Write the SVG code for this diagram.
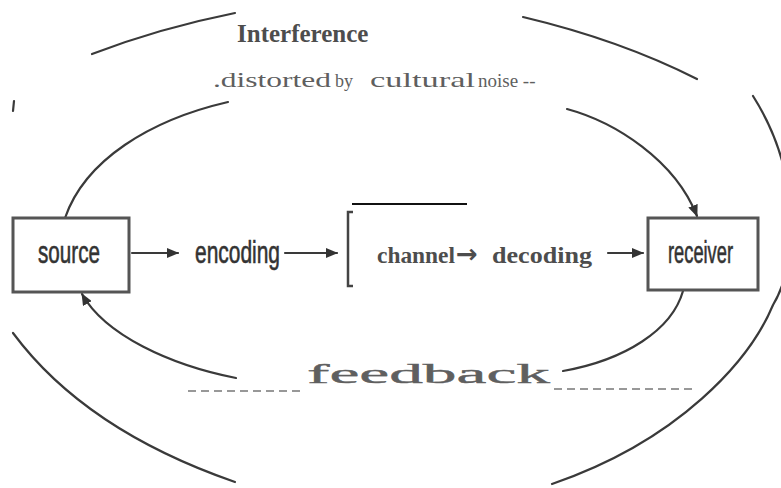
<svg xmlns="http://www.w3.org/2000/svg" width="781" height="488" viewBox="0 0 781 488">
<defs>
<marker id="ah" markerUnits="userSpaceOnUse" markerWidth="12" markerHeight="10" refX="11" refY="5" orient="auto">
<path d="M0,0 L12,5 L0,10 Z" fill="#333"/>
</marker>
<style>
.arc{fill:none;stroke:#3a3a3a;stroke-width:2.2;stroke-linecap:round}
.box{fill:#fff;stroke:#555;stroke-width:3}
.cond{font-family:"Liberation Sans Narrow","Liberation Sans",sans-serif;font-size:31px;fill:#333;stroke:#333;stroke-width:0.6}
.serif{font-family:"Liberation Serif",serif;fill:#5f5f5f}
.bold{font-family:"Liberation Serif",serif;font-weight:bold;fill:#4d4d4d}
.dash{stroke:#777;stroke-width:1.6;stroke-dasharray:8 5}
</style>
</defs>
<rect width="781" height="488" fill="#fff"/>

<g id="connectors">
<path class="arc" d="M92,54 Q160,28 235,13"/>
<path class="arc" d="M523,17 Q620,40 697,79"/>
<path class="arc" d="M14,101 L13,111"/>
<path class="arc" d="M753,96 C800,170 800,260 773,305 C750,360 680,440 552,484"/>
<path class="arc" d="M13,333 Q85,430 235,482"/>
<path class="arc" d="M65,218 C85,160 150,120 228,102"/>
<path class="arc" d="M567,109 C615,122 675,160 697,216" marker-end="url(#ah)"/>
<path class="arc" d="M236,378 C170,365 105,335 82,294" marker-end="url(#ah)"/>
<path class="arc" d="M683,291 C672,330 625,360 563,371"/>
<path class="arc" d="M132,253 L178,253" stroke-width="3" marker-end="url(#ah)"/>
<path class="arc" d="M285,253 L337,253" marker-end="url(#ah)"/>
<path class="arc" d="M608,253 L643,253" marker-end="url(#ah)"/>
<line x1="352" y1="204" x2="467" y2="204" stroke="#111" stroke-width="2"/>
<path d="M353,212 H348 V286 H353" fill="none" stroke="#444" stroke-width="2.5"/>
<line class="dash" x1="188" y1="391" x2="304" y2="391"/>
<line class="dash" x1="554" y1="389" x2="692" y2="389"/>
</g>

<g id="interference">
<text class="bold" x="237" y="42" font-size="25">Interference</text>
</g>

<g id="noise">
<text class="serif" y="87"><tspan x="213" font-size="22" textLength="118" lengthAdjust="spacingAndGlyphs">.distorted</tspan><tspan x="335" font-size="18">by</tspan><tspan x="370" font-size="22" textLength="105" lengthAdjust="spacingAndGlyphs">cultural</tspan><tspan x="478" font-size="19">noise --</tspan></text>
</g>

<g id="source">
<rect class="box" x="13" y="218" width="116" height="74"/>
<text class="cond" x="38" y="263" textLength="62" lengthAdjust="spacingAndGlyphs">source</text>
</g>

<g id="encoding">
<text class="cond" x="195" y="263" textLength="85" lengthAdjust="spacingAndGlyphs">encoding</text>
</g>

<g id="channel">
<text class="bold" y="263" font-size="23"><tspan x="377" textLength="78" lengthAdjust="spacingAndGlyphs">channel</tspan><tspan x="456" font-family="'DejaVu Sans',sans-serif" font-size="26">→</tspan><tspan x="492" textLength="100" lengthAdjust="spacingAndGlyphs">decoding</tspan></text>
</g>

<g id="receiver">
<rect class="box" x="648" y="218" width="110" height="72"/>
<text class="cond" x="668" y="263" textLength="65" lengthAdjust="spacingAndGlyphs">receiver</text>
</g>

<g id="feedback">
<text class="serif" x="307" y="383" font-size="28" textLength="243" lengthAdjust="spacingAndGlyphs" stroke="#5f5f5f" stroke-width="0.4">feedback</text>
</g>
</svg>
